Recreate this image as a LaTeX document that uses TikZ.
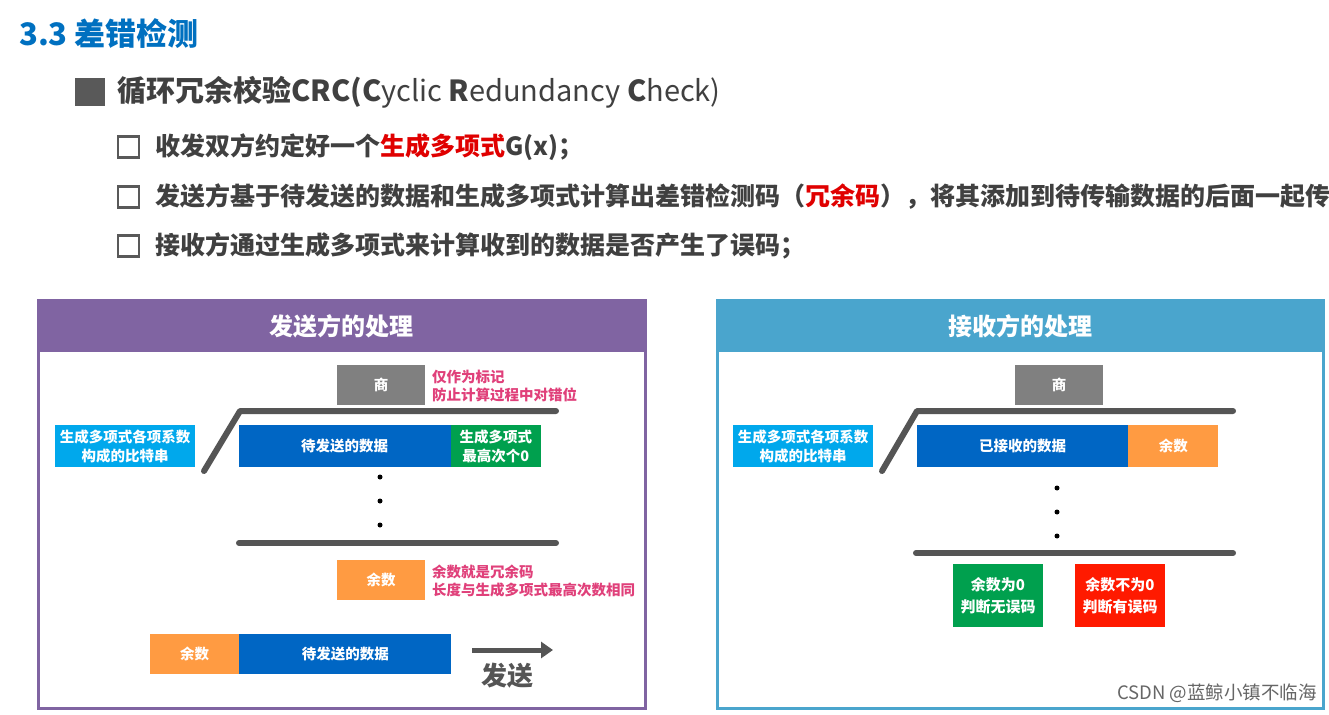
\documentclass[tikz,border=0pt]{standalone}
\usepackage{fontspec}
\setmainfont{Noto Sans CJK SC}
\usetikzlibrary{arrows.meta}
\newcommand\fsz[2]{\fontsize{#1}{#2}\selectfont}
\definecolor{titleblue}{HTML}{0070C0}
\definecolor{txtgray}{HTML}{404040}
\definecolor{sqgray}{HTML}{595959}
\definecolor{hdpurple}{HTML}{8064A2}
\definecolor{hdblue}{HTML}{4AA5CD}
\definecolor{ltblue}{HTML}{00A8EC}
\definecolor{dkblue}{HTML}{0066C4}
\definecolor{okgreen}{HTML}{00A04E}
\definecolor{errred}{HTML}{FF1A00}
\definecolor{orng}{HTML}{FF9B42}
\definecolor{qgray}{HTML}{808080}
\definecolor{pinktxt}{HTML}{E0407A}
\definecolor{barcol}{HTML}{555555}
\definecolor{redtxt}{HTML}{E00000}
\tikzset{
  x=1pt, y=-1pt,
  cell/.style={inner sep=0pt, text=white, font=\fsz{14.5}{19}\bfseries, align=center},
  note/.style={inner sep=0pt, anchor=west, text=pinktxt, font=\fsz{14.5}{18}\bfseries, align=left},
  bar/.style={draw=barcol, line width=6pt, line cap=round, line join=round},
  dotmark/.style={circle, fill=black, inner sep=0pt, minimum size=5pt},
  bullet/.style={inner sep=0pt, anchor=west, text=txtgray, font=\fsz{25}{28}\bfseries},
  chk/.style={draw=sqgray, line width=2.5pt, fill=white, inner sep=0pt, minimum size=21pt},
  hdtext/.style={inner sep=0pt, text=white, font=\fsz{24}{28}\bfseries},
}
\begin{document}
\begin{tikzpicture}
\useasboundingbox[fill=white] (0,0) rectangle (1329,714);
% title
\node[inner sep=0pt, anchor=west, text=titleblue, font=\fsz{31}{34}\bfseries] (title) at (19,34) {3.3 差错检测};
\node[fill=sqgray, inner sep=0pt, minimum width=30pt, minimum height=28pt] (sq) at (90,92) {};
\node[inner sep=0pt, anchor=west, text=txtgray, font=\fsz{29}{32}] (crc) at (117,92) {\bfseries 循环冗余校验CRC(C\mdseries yclic \bfseries R\mdseries edundancy \bfseries C\mdseries heck)};
% bullets
\node[chk] (c1) at (128.5,147) {};
\node[chk] (c2) at (128.5,197) {};
\node[chk] (c3) at (128.5,246) {};
\node[bullet] (b1) at (155,147) {收发双方约定好一个\textcolor{redtxt}{生成多项式}G(x)；};
\node[bullet] (b2) at (155,197) {发送方基于待发送的数据和生成多项式计算出差错检测码（\textcolor{redtxt}{冗余码}），将其添加到待传输数据的后面一起传};
\node[bullet] (b3) at (155,246) {接收方通过生成多项式来计算收到的数据是否产生了误码；};

% ---------- left panel ----------
\fill[hdpurple] (38,300) rectangle (645,352);
\draw[hdpurple, line width=3pt] (38,300) rectangle (645,708);
\node[hdtext] (lhd) at (341.5,326) {发送方的处理};
\node[cell, fill=qgray, minimum width=88pt, minimum height=40pt] (lq) at (381,385) {商};
\node[note] (lqn) at (432,386) {仅作为标记\\防止计算过程中对错位};
\node[cell, fill=ltblue, minimum width=140pt, minimum height=42pt] (lpoly) at (125,446) {生成多项式各项系数\\构成的比特串};
\node[cell, fill=dkblue, minimum width=212pt, minimum height=42pt] (ldata) at (344.5,446) {待发送的数据};
\node[cell, fill=okgreen, minimum width=90pt, minimum height=42pt, anchor=west] (lzero) at (ldata.east) {生成多项式\\最高次个0};
\draw[bar] (204,471) -- (240,411) -- (556,411);
\node[dotmark] (ld1) at (380,477) {};
\node[dotmark] (ld2) at (380,501) {};
\node[dotmark] (ld3) at (380,525) {};
\draw[bar] (239,543) -- (556,543);
\node[cell, fill=orng, minimum width=88pt, minimum height=40pt] (lrem) at (381,580) {余数};
\node[note] (lremn) at (432,581) {余数就是冗余码\\长度与生成多项式最高次数相同};
\node[cell, fill=orng, minimum width=89pt, minimum height=40pt] (srem) at (194.5,654) {余数};
\node[cell, fill=dkblue, minimum width=212pt, minimum height=40pt, anchor=west] (sdata) at (srem.east) {待发送的数据};
\coordinate (as) at (472,650);
\coordinate (ae) at (553,650);
\draw[draw=barcol, line width=5pt, -{Triangle[length=12pt, width=16pt]}] (as) -- (ae);
\node[inner sep=0pt, text=barcol, font=\fsz{26}{30}\bfseries] (send) at (507,676) {发送};

% ---------- right panel ----------
\fill[hdblue] (717,300) rectangle (1323,352);
\draw[hdblue, line width=3pt] (717,300) rectangle (1323,708);
\node[hdtext] (rhd) at (1020,326) {接收方的处理};
\node[cell, fill=qgray, minimum width=88pt, minimum height=40pt] (rq) at (1059,385) {商};
\node[cell, fill=ltblue, minimum width=140pt, minimum height=42pt] (rpoly) at (803,446) {生成多项式各项系数\\构成的比特串};
\node[cell, fill=dkblue, minimum width=211pt, minimum height=42pt] (rdata) at (1022.5,446) {已接收的数据};
\node[cell, fill=orng, minimum width=90pt, minimum height=42pt, anchor=west] (rrem) at (rdata.east) {余数};
\draw[bar] (882,471) -- (917,411) -- (1233,411);
\node[dotmark] (rd1) at (1057,488) {};
\node[dotmark] (rd2) at (1057,512) {};
\node[dotmark] (rd3) at (1057,536) {};
\draw[bar] (916,553) -- (1233,553);
\node[cell, fill=okgreen, minimum width=90pt, minimum height=63pt, font=\fsz{15}{22}\bfseries] (ok) at (998,595.5) {余数为0\\判断无误码};
\node[cell, fill=errred, minimum width=90pt, minimum height=63pt, font=\fsz{15}{22}\bfseries] (err) at (1120,595.5) {余数不为0\\判断有误码};

% watermark
\node[inner sep=0pt, anchor=east, text=black!60, font=\fsz{18.5}{22}] (wm) at (1317,693) {CSDN @蓝鲸小镇不临海};
\end{tikzpicture}
\end{document}
